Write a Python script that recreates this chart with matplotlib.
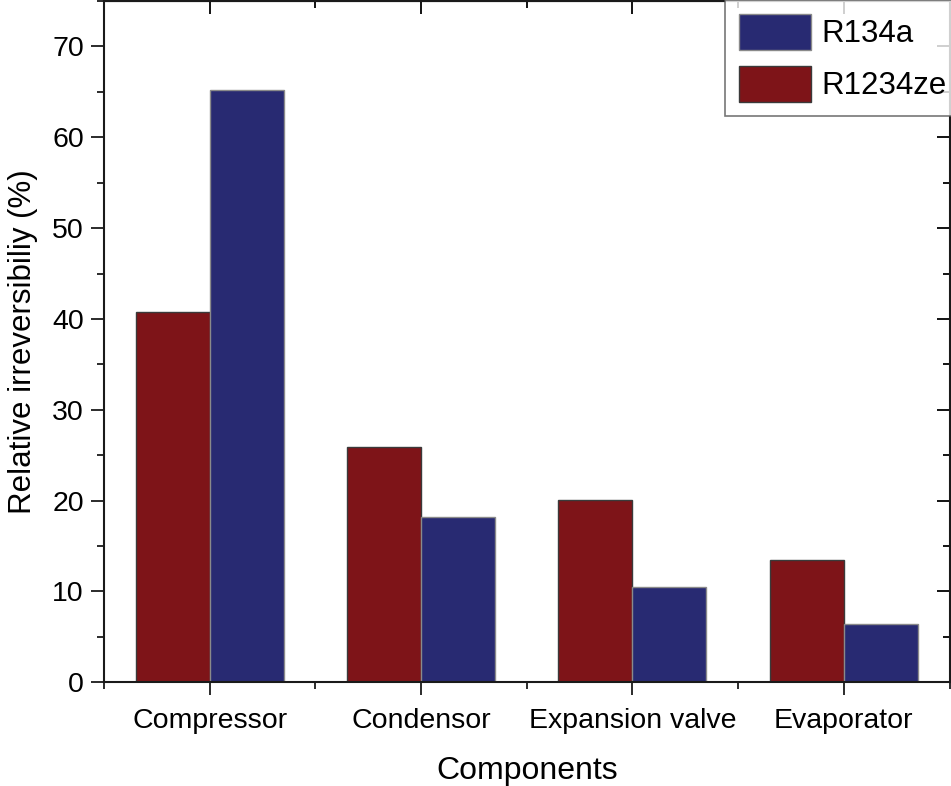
"""Relative irreversibility of refrigeration cycle components, R134a vs R1234ze."""

import matplotlib

matplotlib.use("Agg")
import matplotlib.pyplot as plt
import numpy as np
from matplotlib.ticker import MultipleLocator

plt.rcParams["font.family"] = ["Liberation Sans", "DejaVu Sans"]

components = ["Compressor", "Condensor", "Expansion valve", "Evaporator"]
r1234ze = [40.8, 25.9, 20.1, 13.5]
r134a = [65.2, 18.2, 10.5, 6.4]

RED = "#7e1418"
NAVY = "#282a72"

fig = plt.figure(figsize=(9.51, 7.86), dpi=100)
ax = fig.add_axes([104 / 951, 103.7 / 786, 845.5 / 951, 681.3 / 786])

x = np.arange(len(components))
width = 0.35
bars_ze = ax.bar(x - width / 2, r1234ze, width, color=RED, edgecolor="#3a3a3a",
                 linewidth=1.0, label="R1234ze", zorder=2)
bars_a = ax.bar(x + width / 2, r134a, width, color=NAVY, edgecolor="#8a8a8a",
                linewidth=1.0, label="R134a", zorder=2)

ax.set_xlim(-0.5, len(components) - 0.5)
ax.set_ylim(0, 75)
ax.set_xticks(x)
ax.set_xticklabels(components)
ax.xaxis.set_minor_locator(MultipleLocator(0.5))
ax.yaxis.set_major_locator(MultipleLocator(10))
ax.yaxis.set_minor_locator(MultipleLocator(5))

for side in ax.spines.values():
    side.set_linewidth(1.5)
    side.set_color("#1a1a1a")

ax.tick_params(axis="both", which="major", direction="out", length=9.5, width=1.3,
               labelsize=20.5, color="#1a1a1a", pad=5)
ax.tick_params(axis="x", which="major", pad=9)
ax.tick_params(axis="both", which="minor", direction="out", length=5, width=1.3,
               color="#1a1a1a")
# mirrored ticks on top/right point inward
sec_x = ax.secondary_xaxis("top")
sec_x.set_xticks(x)
sec_x.xaxis.set_minor_locator(MultipleLocator(0.5))
sec_x.tick_params(which="major", direction="in", length=9.5, width=1.3, labeltop=False)
sec_x.tick_params(which="minor", direction="in", length=5, width=1.3)
sec_y = ax.secondary_yaxis("right")
sec_y.yaxis.set_major_locator(MultipleLocator(10))
sec_y.yaxis.set_minor_locator(MultipleLocator(5))
sec_y.tick_params(which="major", direction="in", length=9.5, width=1.3, labelright=False)
sec_y.tick_params(which="minor", direction="in", length=5, width=1.3)

ax.set_xlabel("Components", fontsize=23, labelpad=16)
ax.set_ylabel("Relative irreversibiliy (%)", fontsize=22.5, labelpad=10)

leg = ax.legend([bars_a, bars_ze], ["R134a", "R1234ze"], loc="upper left",
                bbox_to_anchor=((725 - 104) / 845.5, 1.0015),
                fontsize=22.5, frameon=True, fancybox=False, edgecolor="#555555",
                handlelength=2.3, handleheight=1.4, handletextpad=0.35,
                borderpad=0.45, labelspacing=0.5, borderaxespad=0.0)
leg.get_frame().set_linewidth(1.2)

fig.savefig("out.png", dpi=100)
